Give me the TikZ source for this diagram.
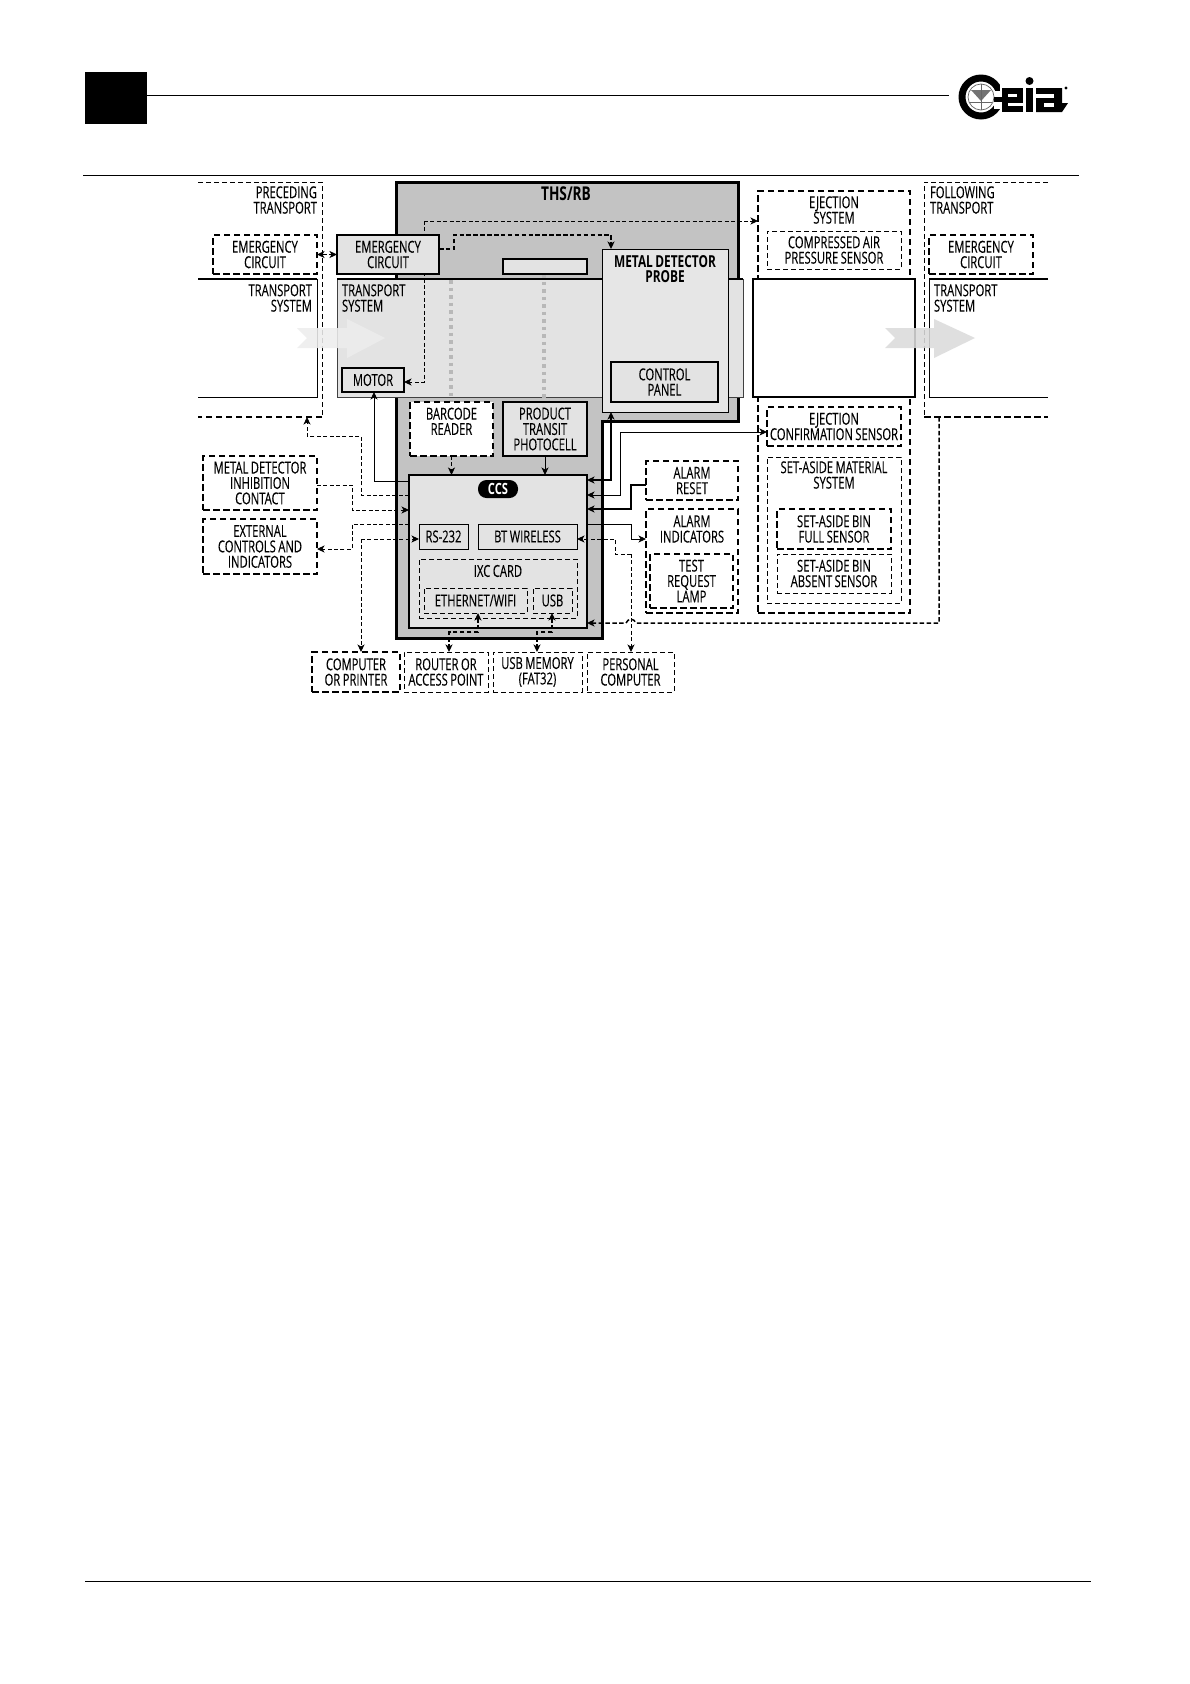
\documentclass[tikz,border=0pt]{standalone}
\usepackage{fontspec}
\setmainfont[FakeStretch=0.68,FakeBold=0.06,WordSpace=0.85]{Open Sans}
\newfontfamily\boldf[FakeStretch=0.72,WordSpace=0.8]{Open Sans Bold}
\usetikzlibrary{arrows.meta}
\definecolor{thsgray}{HTML}{C3C3C3}
\definecolor{lightg}{HTML}{E3E3E3}
\definecolor{probeg}{HTML}{E6E6E6}
\tikzset{
  x=1pt,y=-1pt,
  every node/.style={font=\fontsize{16.5}{15.4}\selectfont,align=center,text=black,inner sep=0pt,outer sep=0pt},
  bxdash/.style={draw=black,line width=1pt,dash pattern=on 5pt off 3pt},
  bxdashb/.style={draw=black,line width=1.5pt,dash pattern=on 6.5pt off 3.5pt},
  bxsolid/.style={draw=black,line width=1.1pt,fill=lightg},
  bxheavy/.style={draw=black,line width=1.6pt,fill=lightg},
  lblr/.style={anchor=east,align=right},
  lbll/.style={anchor=west,align=left},
  lblb/.style={font=\fontsize{16.5}{15.4}\boldf},
  tip/.style={-{Stealth[length=7.5pt,width=7pt,inset=2pt]}},
  tips/.style={{Stealth[length=7.5pt,width=7pt,inset=2pt]}-{Stealth[length=7.5pt,width=7pt,inset=2pt]}},
  cthin/.style={line width=.9pt,dash pattern=on 4pt off 2.4pt},
  cthick/.style={line width=1.5pt,dash pattern=on 4.5pt off 2.4pt},
  csolid/.style={line width=.85pt},
  cheavy/.style={line width=2pt},
  flowarrow/.style={draw=none,fill opacity=.88},
}
\newcommand\bx[7]{%
  \pgfmathsetmacro\cxx{(#3+#5)/2}\pgfmathsetmacro\cyy{(#4+#6)/2}%
  \pgfmathsetmacro\www{#5-#3}\pgfmathsetmacro\hhh{#6-#4}%
  \node[#2,minimum width=\www pt,minimum height=\hhh pt] (#1) at (\cxx,\cyy) {#7};}
\begin{document}
\begin{tikzpicture}
\useasboundingbox (0,0) rectangle (1190,1684);
\fill[white] (0,0) rectangle (1190,1684);
% header / footer
\node[fill=black,minimum width=62pt,minimum height=52pt,anchor=north west] (tab) at (85,72) {};
\coordinate (logoL) at (949,95);
\draw[line width=.9pt] (tab.east |- logoL) -- (logoL);
\coordinate (ruleA) at (83,175); \coordinate (ruleB) at (1079,175);
\draw[line width=.9pt] (ruleA) -- (ruleB);
\coordinate (footA) at (85,1581); \coordinate (footB) at (1091,1581);
\draw[line width=.9pt] (footA) -- (footB);
% logo
\fill[black,even odd rule] (981,97) circle (22.5) (981,97) circle (15.5);
\fill[white] (994,91) rectangle (1006,109);
\fill[white] (1000,84) rectangle (1006,112);
\draw[line width=.7pt,fill=white,draw=black!60] (981,97) circle (13);
\fill[black!55] (971,90) -- (991,90) -- (981,101) -- cycle;
\draw[line width=1pt,black!60] (981,84) -- (981,110) (970,102) -- (992,102);
\fill[black] (1002,88) rectangle (1023,112);
\fill[black] (994,97) rectangle (1004,102);
\fill[white] (1008,93.5) rectangle (1017,97);
\fill[white] (1008,102.5) rectangle (1023.5,106);
\fill[black] (1026,88) rectangle (1033,112);
\fill[black] (1029.5,81) circle (4);
\fill[black] (1036,88) -- (1062,88) -- (1062,103) -- (1068,103) -- (1062,112) -- (1036,112) -- cycle;
\fill[white] (1035.5,94) rectangle (1054,98);
\fill[white] (1044,103) rectangle (1054,107);
\fill[black] (1066,88) circle (1.6);
% outer frames
\coordinate (prA) at (198,182); \coordinate (prB) at (322,182); \coordinate (prC) at (322,417); \coordinate (prD) at (198,417);
\draw[bxdash] (prA) -- (prB) -- (prC);
\draw[bxdashb] (prC) -- (prD);
\coordinate (foA) at (1048,182); \coordinate (foB) at (924,182); \coordinate (foC) at (924,417); \coordinate (foD) at (1048,417);
\draw[bxdash] (foA) -- (foB) -- (foC);
\draw[bxdashb] (foC) -- (foD);
% left / right transport
\coordinate (tlA) at (198,279); \coordinate (tlB) at (317,279); \coordinate (tlC) at (317,397); \coordinate (tlD) at (198,397);
\draw[line width=1.8pt] (tlA) -- (tlB);
\draw[line width=1pt] (tlB) -- (tlC) -- (tlD);
\coordinate (trA) at (1048,279); \coordinate (trB) at (929,279); \coordinate (trC) at (929,397); \coordinate (trD) at (1048,397);
\draw[line width=1.8pt] (trA) -- (trB);
\draw[line width=1pt] (trB) -- (trC) -- (trD);
% THS body
\draw[line width=3pt,fill=thsgray,line join=miter] (396,182) -- (738,182) -- (738,421) -- (602,421) -- (602,638) -- (396,638) -- cycle;
% ejection frame
\bx{ejframe}{bxdashb}{758}{191}{910}{613}{}
% central transport
\node[draw=black!75,line width=1pt,fill=lightg,minimum width=406pt,minimum height=118pt,anchor=north west] (transp) at (337,279) {};
\draw[draw=black,line width=1.3pt] (transp.north west) -- (transp.north east);
\node[draw=black,line width=1.6pt,fill=white,minimum width=162pt,minimum height=118pt,anchor=north west] (whitebox) at (753,279) {};
% dotted
\coordinate (dotA) at (451,280); \coordinate (dotB) at (451,402);
\coordinate (dotC) at (544,274); \coordinate (dotD) at (544,402);
\draw[line width=3.4pt,color=black!28,dash pattern=on 3.5pt off 4pt] (dotA) -- (dotB) (dotC) -- (dotD);
% boxes
\bx{motor}{bxheavy}{342}{368}{404}{392}{MOTOR}
\bx{smallrect}{bxheavy}{503}{259}{587}{274}{}
\bx{probe}{draw=black,line width=1pt,fill=probeg}{602}{249}{728}{412}{}
\bx{ctrl}{bxheavy}{611}{362}{718}{402}{CONTROL\\PANEL}
\node[lblb] (ttlprobe) at (665,269) {METAL DETECTOR\\PROBE};
\node[font=\fontsize{19}{18}\boldf] (ttlths) at (566,194) {THS/RB};
% connector behind emergency box
\draw[cthin,tip] (424,221) -- (ejframe.west |- 0,221);
\draw[cthin,tip] (424,221) -- (424,382) -- (motor.east |- 0,382);
\bx{emgc}{bxsolid}{337}{235}{439}{274}{EMERGENCY\\CIRCUIT}
\bx{emgl}{bxdashb}{213}{235}{317}{274}{EMERGENCY\\CIRCUIT}
\bx{emgr}{bxdashb}{929}{235}{1033}{274}{EMERGENCY\\CIRCUIT}
\bx{compair}{bxdash}{767}{231}{901}{269}{COMPRESSED AIR\\PRESSURE SENSOR}
\bx{barcode}{bxdashb,fill=white,line width=1.8pt}{410}{402}{493}{456}{BARCODE\\READER\\ \phantom{X}}
\bx{photo}{bxheavy}{503}{402}{587}{456}{PRODUCT\\TRANSIT\\PHOTOCELL}
\bx{ccs}{bxsolid}{409}{475}{587}{628}{}
\node[fill=black,rounded corners=8.5pt,minimum width=40pt,minimum height=18pt,text=white,font=\fontsize{15.5}{15}\boldf] (ccsbadge) at (498,489) {CCS};
\bx{rs}{draw=black,line width=.9pt,fill=lightg}{419}{524}{468}{549}{RS-232}
\bx{bt}{draw=black,line width=.9pt,fill=lightg}{478}{524}{577}{549}{BT WIRELESS}
\bx{ixc}{bxdash}{419}{559}{577}{618}{}
\node (ttlixc) at (498,571) {IXC CARD};
\bx{eth}{bxdash}{424}{588}{527}{613}{ETHERNET/WIFI}
\bx{usb}{bxdash}{533}{588}{572}{613}{USB}
\bx{inhib}{bxdashb}{203}{456}{317}{510}{METAL DETECTOR\\INHIBITION\\CONTACT}
\bx{extc}{bxdashb}{203}{519}{317}{574}{EXTERNAL\\CONTROLS AND\\INDICATORS}
\bx{comp}{bxdashb}{312}{652}{400}{692}{COMPUTER\\OR PRINTER}
\bx{router}{bxdash}{404}{652}{488}{692}{ROUTER OR\\ACCESS POINT}
\bx{usbm}{bxdash}{493}{652}{582}{692}{USB MEMORY\\(FAT32)}
\bx{pc}{bxdash}{587}{652}{674}{692}{PERSONAL\\COMPUTER}
\bx{areset}{bxdashb}{646}{461}{738}{500}{ALARM\\RESET}
\bx{aind}{bxdashb}{646}{509}{738}{613}{}
\node (ttlaind) at (692,529) {ALARM\\INDICATORS};
\bx{test}{bxdashb}{650}{554}{733}{608}{TEST\\REQUEST\\LAMP}
\bx{ejconf}{bxdashb}{767}{407}{901}{446}{EJECTION\\CONFIRMATION SENSOR}
\bx{setaside}{bxdash}{767}{457}{901}{603}{}
\node (ttlset) at (834,475) {SET-ASIDE MATERIAL\\SYSTEM};
\bx{binfull}{bxdashb}{777}{509}{891}{549}{SET-ASIDE BIN\\FULL SENSOR}
\bx{binabs}{bxdash}{777}{554}{891}{593}{SET-ASIDE BIN\\ABSENT SENSOR}
% labels
\node (ttlej) at (834,210) {EJECTION\\SYSTEM};
\node[lblr] (ttlprec) at (317,200) {PRECEDING\\TRANSPORT};
\node[lblr] (ttltl) at (312,298) {TRANSPORT\\SYSTEM};
\node[lbll] (ttltc) at (342,298) {TRANSPORT\\SYSTEM};
\node[lbll] (ttlfol) at (930,200) {FOLLOWING\\TRANSPORT};
\node[lbll] (ttltr) at (934,298) {TRANSPORT\\SYSTEM};
% flow arrows
\fill[flowarrow,fill=black!7] (297,328) -- (347,328) -- (347,319) -- (385,338) -- (347,358) -- (347,348) -- (297,348) -- (307,338) -- cycle;
\fill[flowarrow,fill=black!14] (885,328) -- (934,328) -- (934,319) -- (975,338) -- (934,358) -- (934,348) -- (885,348) -- (895,338) -- cycle;
% connectors
\draw[cthick,tips] (emgl.east) -- (emgc.west);
\draw[cthick] (emgc.east |- 0,249) -- (454,249) -- (454,235) -- (611,235);
\draw[cthick,tip] (611,235) -- (probe.north -| 611,0);
\draw[cthin,tip] (ccs.west |- 0,495) -- (361,495) -- (361,436) -- (307,436) -- (prC -| 307,0);
\draw[csolid,tip] (ccs.west |- 0,481) -- (374,481) -- (motor.south -| 374,0);
\draw[cthin,tip] (inhib.east |- 0,485) -- (352,485) -- (352,510) -- (ccs.west |- 0,510);
\draw[cthin,tip] (ccs.west |- 0,524) -- (352,524) -- (352,549) -- (extc.east |- 0,549);
\draw[cthin,tip] (361,539) -- (rs.west |- 0,539);
\draw[cthin,tip] (361,539) -- (comp.north -| 361,0);
\draw[cthin,tip] (barcode.south) -- (ccs.north -| barcode.south);
\draw[csolid,tip] (photo.south) -- (ccs.north -| photo.south);
\draw[cthick,tips] (eth.south -| 478,0) -- (478,632) -- (449,632) -- (router.north -| 449,0);
\draw[cthick,tips] (usb.south -| 552,0) -- (552,632) -- (537,632) -- (usbm.north -| 537,0);
\draw[cheavy,tips] (probe.south -| 611,0) -- (611,480) -- (ccs.east |- 0,480);
\draw[csolid,tips] (ejconf.west |- 0,432) -- (620,432) -- (620,495) -- (ccs.east |- 0,495);
\draw[cheavy,tip] (areset.west |- 0,485) -- (631,485) -- (631,509) -- (ccs.east |- 0,509);
\draw[csolid,tip] (ccs.east |- 0,524) -- (631,524) -- (631,539) -- (aind.west |- 0,539);
\draw[cthin,tip] (631,554) -- (615,554) -- (615,539) -- (bt.east |- 0,539);
\draw[cthin,tip] (631,554) -- (pc.north -| 631,0);
\draw[cthick,tip] (foC -| 939,0) -- (939,623) -- (636,623) .. controls (634,618) and (628,618) .. (626,623) -- (ccs.east |- 0,623);
\end{tikzpicture}
\end{document}
